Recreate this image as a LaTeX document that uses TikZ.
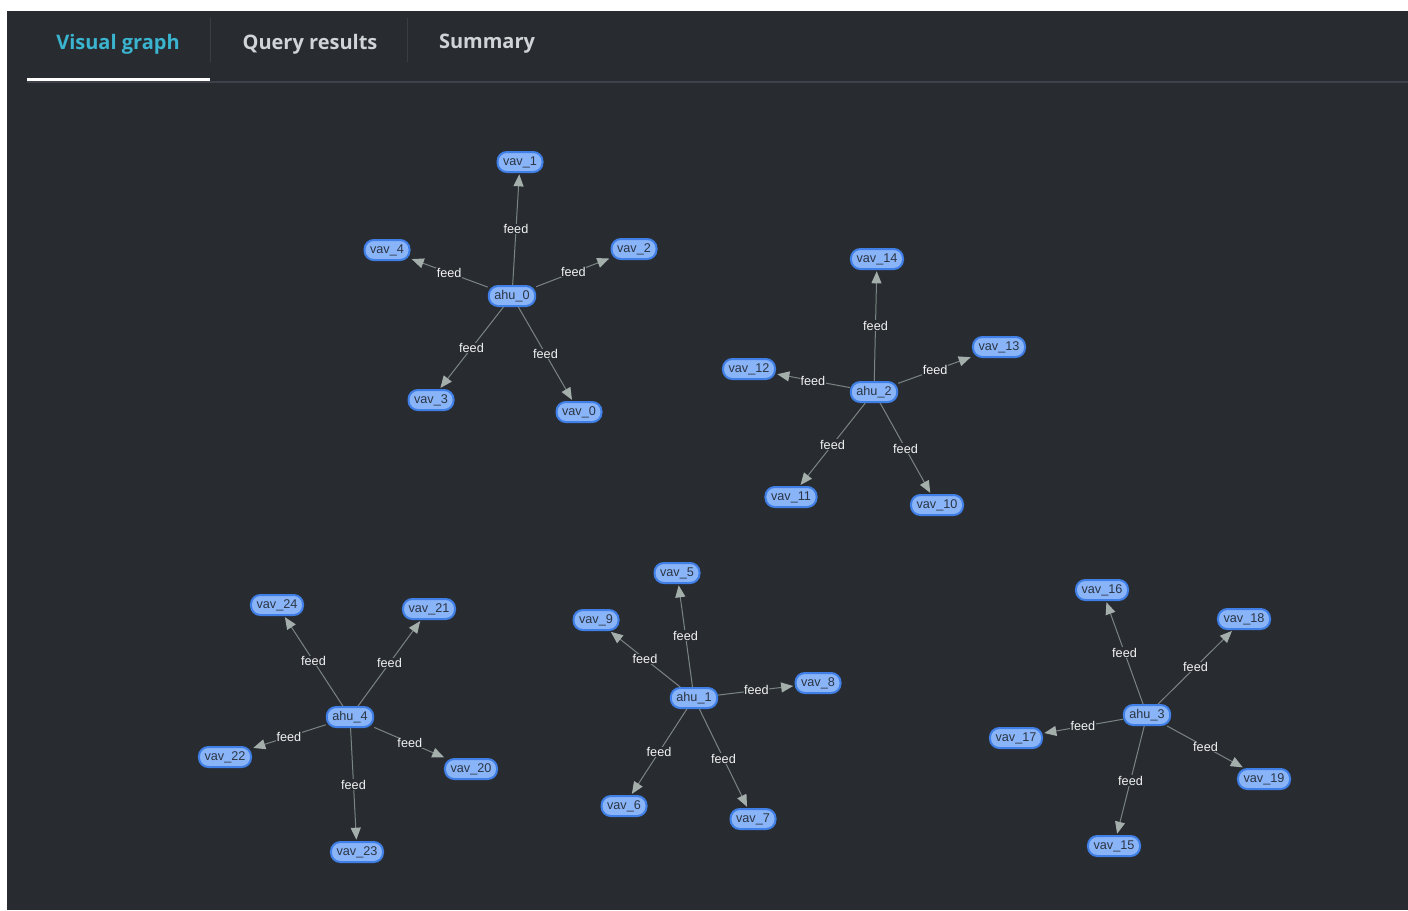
\documentclass[tikz,border=0pt]{standalone}
\usepackage{xcolor}
\usepackage{fontspec}
\setmainfont{Liberation Sans}
\newfontfamily\tabfont{Open Sans}
\usepackage{tikz}
\usetikzlibrary{arrows.meta}

\definecolor{panelbg}{RGB}{40,44,49}
\definecolor{tabline}{RGB}{62,64,74}
\definecolor{tabsep}{RGB}{58,62,68}
\definecolor{tabactive}{RGB}{58,180,207}
\definecolor{tabtext}{RGB}{208,212,214}
\definecolor{nodefill}{RGB}{138,180,248}
\definecolor{nodeline}{RGB}{63,127,230}
\definecolor{nodetext}{RGB}{43,53,68}
\definecolor{edgecol}{RGB}{122,132,130}
\definecolor{tipcol}{RGB}{164,174,171}

\tikzset{
  vavnode/.style={draw=nodeline, fill=nodefill, line width=1.5pt, rounded corners=7pt,
    minimum height=15pt, inner xsep=4.2pt, inner ysep=0pt, text=nodetext,
    font=\fontsize{9.5}{9.5}\selectfont},
  feed/.style={draw=edgecol, line width=0.75pt, shorten >=1pt,
    -{Triangle[length=9pt, width=7.5pt, fill=tipcol, color=tipcol]}},
  feedlabel/.style={midway, font=\fontsize{9.5}{9.5}\selectfont, text=white!95!black,
    fill=panelbg, inner sep=0.3pt},
  tablabel/.style={font=\tabfont\bfseries\fontsize{15}{15}\selectfont}
}

\begin{document}
\begin{tikzpicture}[x=0.75pt, y=-0.75pt]
  \useasboundingbox (0,0) rectangle (1408,910);
  \fill[white] (0,0) rectangle (1408,910);
  \fill[panelbg] (7,11) rectangle (1408,910);

  % tabs
  \draw[tabline, line width=0.9pt] (27,82) -- (1408,82);
  \draw[white, line width=2.2pt] (27,79.5) -- (210,79.5);
  \draw[tabsep, line width=0.75pt] (210,18) -- (210,62);
  \draw[tabsep, line width=0.75pt] (407,18) -- (407,62);
  \node[tablabel, text=tabactive] (tabgraph) at (118,44) {Visual graph};
  \node[tablabel, text=tabtext] (tabquery) at (310,44) {Query results};
  \node[tablabel, text=tabtext] (tabsummary) at (487,44) {Summary};

  % ahu_0
  \node[vavnode] (ahu0) at (512,296) {ahu\_0};
  \node[vavnode] (vav1) at (520,162) {vav\_1};
  \node[vavnode] (vav4) at (387,250) {vav\_4};
  \node[vavnode] (vav2) at (634,249) {vav\_2};
  \node[vavnode] (vav3) at (431,400) {vav\_3};
  \node[vavnode] (vav0) at (579,412) {vav\_0};

  % ahu_2
  \node[vavnode] (ahu2) at (874,392) {ahu\_2};
  \node[vavnode] (vav14) at (877,259) {vav\_14};
  \node[vavnode] (vav13) at (999,347) {vav\_13};
  \node[vavnode] (vav12) at (749,369) {vav\_12};
  \node[vavnode] (vav11) at (791,497) {vav\_11};
  \node[vavnode] (vav10) at (937,505) {vav\_10};

  % ahu_4
  \node[vavnode] (ahu4) at (350,717) {ahu\_4};
  \node[vavnode] (vav24) at (277,605) {vav\_24};
  \node[vavnode] (vav21) at (429,609) {vav\_21};
  \node[vavnode] (vav22) at (225,757) {vav\_22};
  \node[vavnode] (vav20) at (471,769) {vav\_20};
  \node[vavnode] (vav23) at (357,852) {vav\_23};

  % ahu_1
  \node[vavnode] (ahu1) at (694,698) {ahu\_1};
  \node[vavnode] (vav5) at (677,573) {vav\_5};
  \node[vavnode] (vav9) at (596,620) {vav\_9};
  \node[vavnode] (vav8) at (818,683) {vav\_8};
  \node[vavnode] (vav6) at (624,806) {vav\_6};
  \node[vavnode] (vav7) at (753,819) {vav\_7};

  % ahu_3
  \node[vavnode] (ahu3) at (1147,715) {ahu\_3};
  \node[vavnode] (vav16) at (1102,590) {vav\_16};
  \node[vavnode] (vav18) at (1244,619) {vav\_18};
  \node[vavnode] (vav17) at (1016,738) {vav\_17};
  \node[vavnode] (vav19) at (1264,779) {vav\_19};
  \node[vavnode] (vav15) at (1114,846) {vav\_15};

  % edges
  \draw[feed] (ahu0) -- (vav1) node[feedlabel] (l1) {feed};
  \draw[feed] (ahu0) -- (vav4) node[feedlabel] (l4) {feed};
  \draw[feed] (ahu0) -- (vav2) node[feedlabel] (l2) {feed};
  \draw[feed] (ahu0) -- (vav3) node[feedlabel] (l3) {feed};
  \draw[feed] (ahu0) -- (vav0) node[feedlabel] (l0) {feed};

  \draw[feed] (ahu2) -- (vav14) node[feedlabel] (l14) {feed};
  \draw[feed] (ahu2) -- (vav13) node[feedlabel] (l13) {feed};
  \draw[feed] (ahu2) -- (vav12) node[feedlabel] (l12) {feed};
  \draw[feed] (ahu2) -- (vav11) node[feedlabel] (l11) {feed};
  \draw[feed] (ahu2) -- (vav10) node[feedlabel] (l10) {feed};

  \draw[feed] (ahu4) -- (vav24) node[feedlabel] (l24) {feed};
  \draw[feed] (ahu4) -- (vav21) node[feedlabel] (l21) {feed};
  \draw[feed] (ahu4) -- (vav22) node[feedlabel] (l22) {feed};
  \draw[feed] (ahu4) -- (vav20) node[feedlabel] (l20) {feed};
  \draw[feed] (ahu4) -- (vav23) node[feedlabel] (l23) {feed};

  \draw[feed] (ahu1) -- (vav5) node[feedlabel] (l5) {feed};
  \draw[feed] (ahu1) -- (vav9) node[feedlabel] (l9) {feed};
  \draw[feed] (ahu1) -- (vav8) node[feedlabel] (l8) {feed};
  \draw[feed] (ahu1) -- (vav6) node[feedlabel] (l6) {feed};
  \draw[feed] (ahu1) -- (vav7) node[feedlabel] (l7) {feed};

  \draw[feed] (ahu3) -- (vav16) node[feedlabel] (l16) {feed};
  \draw[feed] (ahu3) -- (vav18) node[feedlabel] (l18) {feed};
  \draw[feed] (ahu3) -- (vav17) node[feedlabel] (l17) {feed};
  \draw[feed] (ahu3) -- (vav19) node[feedlabel] (l19) {feed};
  \draw[feed] (ahu3) -- (vav15) node[feedlabel] (l15) {feed};
\end{tikzpicture}
\end{document}
